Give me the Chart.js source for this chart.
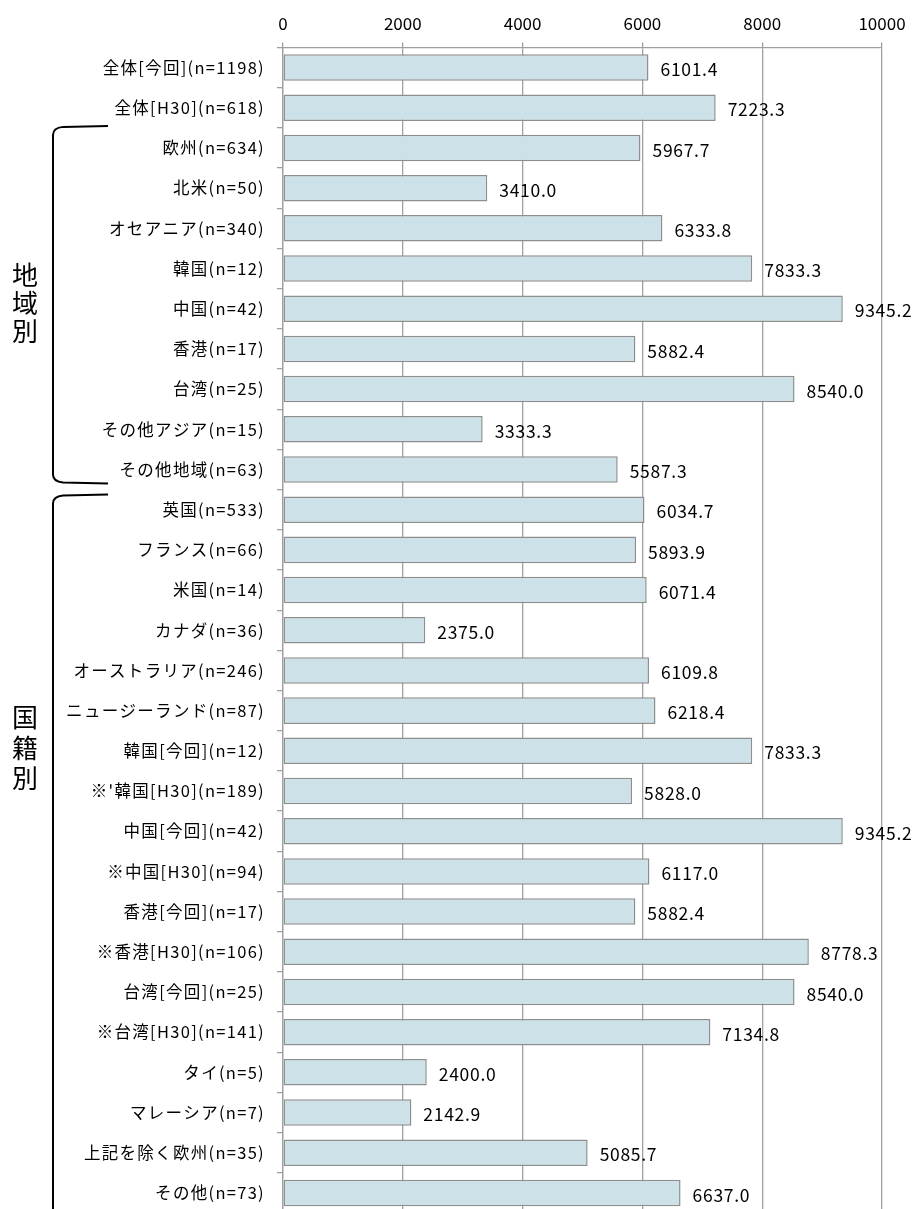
<!DOCTYPE html>
<html>
<head>
<meta charset="utf-8">
<script src="https://cdn.jsdelivr.net/npm/chart.js@4"></script>
<style>
  html, body { margin: 0; padding: 0; background: #fff; overflow: hidden; }
  #wrap { width: 915px; height: 1213px; }
</style>
</head>
<body>
<div id="wrap"><canvas id="chart" width="915" height="1213"></canvas></div>
<script>
// categories (top to bottom)
const categories = [
  '全体[今回](n=1198)', '全体[H30](n=618)',
  '欧州(n=634)', '北米(n=50)', 'オセアニア(n=340)', '韓国(n=12)', '中国(n=42)',
  '香港(n=17)', '台湾(n=25)', 'その他アジア(n=15)', 'その他地域(n=63)',
  '英国(n=533)', 'フランス(n=66)', '米国(n=14)', 'カナダ(n=36)', 'オーストラリア(n=246)',
  'ニュージーランド(n=87)', '韓国[今回](n=12)', "※'韓国[H30](n=189)", '中国[今回](n=42)',
  '※中国[H30](n=94)', '香港[今回](n=17)', '※香港[H30](n=106)', '台湾[今回](n=25)',
  '※台湾[H30](n=141)', 'タイ(n=5)', 'マレーシア(n=7)', '上記を除く欧州(n=35)', 'その他(n=73)'
];

const values = [
  6101.4, 7223.3,
  5967.7, 3410.0, 6333.8, 7833.3, 9345.2, 5882.4, 8540.0, 3333.3, 5587.3,
  6034.7, 5893.9, 6071.4, 2375.0, 6109.8, 6218.4, 7833.3, 5828.0, 9345.2,
  6117.0, 5882.4, 8778.3, 8540.0, 7134.8, 2400.0, 2142.9, 5085.7, 6637.0
];

const xTicks = [0, 2000, 4000, 6000, 8000, 10000];

// group brackets: first/last category index of each group
const groups = [
  { label: '地域別', from: 2, to: 10 },
  { label: '国籍別', from: 11, to: 28 }
];

const FONT = "'Noto Sans CJK JP', 'Noto Sans', sans-serif";

const valueLabels = {
  id: 'valueLabels',
  afterDatasetsDraw(chart) {
    const ctx = chart.ctx;
    const meta = chart.getDatasetMeta(0);
    ctx.save();
    ctx.letterSpacing = '0.7px';
    ctx.font = '17.5px ' + FONT;
    ctx.fillStyle = '#000';
    ctx.textAlign = 'left';
    ctx.textBaseline = 'middle';
    meta.data.forEach((bar, i) => {
      ctx.fillText(values[i].toFixed(1), bar.x + 12, bar.y + 2);
    });
    ctx.restore();
    // wider spacing for the category labels, which are drawn next (z: 1)
    ctx.letterSpacing = '1.3px';
  }
};

const brackets = {
  id: 'brackets',
  afterDraw(chart) {
    const ctx = chart.ctx;
    ctx.letterSpacing = '0px';
    const y = chart.scales.y;
    const row = y.getPixelForValue(1) - y.getPixelForValue(0);
    ctx.save();
    ctx.strokeStyle = '#000';
    ctx.lineWidth = 2;
    groups.forEach((g, gi) => {
      const top = y.getPixelForValue(g.from) - row / 2 - (gi === 0 ? 2 : -5);
      let bottom = y.getPixelForValue(g.to) + row / 2 - 6;
      if (gi === groups.length - 1) bottom = chart.height + 20;
      const xl = 53, xr = 108;
      ctx.beginPath();
      ctx.moveTo(xr, top);
      ctx.lineTo(xl + 10, top + 1);
      ctx.quadraticCurveTo(xl, top + 2, xl, top + 9);
      ctx.lineTo(xl, bottom - 9);
      ctx.quadraticCurveTo(xl, bottom - 2, xl + 10, bottom - 1);
      ctx.lineTo(xr, bottom);
      ctx.stroke();

      // vertical group label
      const mid = gi === 0 ? 303 : 748;
      ctx.fillStyle = '#000';
      ctx.font = '26px ' + FONT;
      ctx.textAlign = 'center';
      ctx.textBaseline = 'middle';
      const chars = Array.from(g.label);
      const step = gi === 0 ? 28 : 30.5;
      chars.forEach((c, k) => {
        ctx.fillText(c, 25, mid + (k - (chars.length - 1) / 2) * step);
      });
    });
    ctx.restore();
  }
};

new Chart(document.getElementById('chart'), {
  type: 'bar',
  data: {
    labels: categories,
    datasets: [{
      data: values,
      backgroundColor: '#CCE1E8',
      borderColor: '#8E8E8E',
      borderWidth: 1.5,
      borderSkipped: false,
      categoryPercentage: 1,
      barPercentage: 0.66
    }]
  },
  options: {
    indexAxis: 'y',
    responsive: false,
    devicePixelRatio: 1,
    animation: false,
    layout: { padding: 0 },
    plugins: {
      legend: { display: false },
      tooltip: { enabled: false }
    },
    scales: {
      x: {
        position: 'top',
        min: 0,
        max: 10000,
        afterBuildTicks(axis) { axis.ticks = xTicks.map(v => ({ value: v })); },
        afterFit(axis) {
          axis.height = 47.5;
          axis.paddingLeft = 0;
          axis.paddingRight = 33;
        },
        ticks: {
          padding: 9,
          color: '#000',
          callback: v => String(v),
          font: { family: FONT, size: 17 }
        },
        grid: { color: '#A0A0A0', lineWidth: 1.3, tickLength: 5 },
        border: { display: true, color: '#A0A0A0', width: 1.3 }
      },
      y: {
        afterFit(axis) {
          axis.width = 283;
          axis.paddingTop = 0;
          axis.paddingBottom = 0;
        },
        ticks: {
          z: 1,
          padding: 12,
          color: '#000',
          autoSkip: false,
          font: { family: FONT, size: 16.5 }
        },
        grid: { drawOnChartArea: false, drawTicks: true, tickLength: 6, color: '#A0A0A0', lineWidth: 1.3 },
        border: { display: true, color: '#A0A0A0', width: 1.3 }
      }
    }
  },
  plugins: [valueLabels, brackets]
});
</script>
</body>
</html>
